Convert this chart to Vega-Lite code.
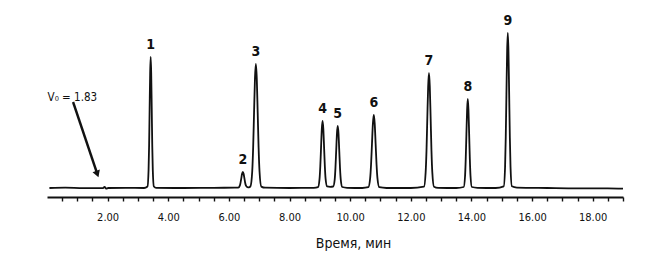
{
  "$schema": "https://vega.github.io/schema/vega-lite/v6.json",
  "width": 576,
  "height": 187,
  "autosize": {"type": "none"},
  "padding": {"left": 47, "top": 10, "right": 27, "bottom": 72},
  "background": "white",
  "config": {"view": {"stroke": null}},
  "datasets": {
    "trace": [
      {"t":0.08,"s":0},{"t":0.6,"s":0.3},{"t":1.2,"s":-0.2},{"t":1.85,"s":0},{"t":1.9,"s":1.2},{"t":1.95,"s":-0.6},{"t":2.02,"s":0},{"t":2.6,"s":0.2},{"t":3.2,"s":0},
      {"t":3.315,"s":1.5},{"t":3.35,"s":17.7},{"t":3.368,"s":42.5},{"t":3.385,"s":79.5},{"t":3.403,"s":115.6},{"t":3.42,"s":131},{"t":3.437,"s":115.6},{"t":3.455,"s":79.5},{"t":3.472,"s":42.5},{"t":3.49,"s":17.7},{"t":3.525,"s":1.5},{"t":3.6,"s":0.2},
      {"t":4.5,"s":0},{"t":5.5,"s":0.2},{"t":6.2,"s":0.3},
      {"t":6.31,"s":0.4},{"t":6.36,"s":2.4},{"t":6.385,"s":5.4},{"t":6.41,"s":9.9},{"t":6.435,"s":14.3},{"t":6.46,"s":16.2},{"t":6.485,"s":14.3},{"t":6.51,"s":10},{"t":6.535,"s":5.5},{"t":6.56,"s":2.6},{"t":6.61,"s":0.8},{"t":6.66,"s":0.6},
      {"t":6.71,"s":1.6},{"t":6.77,"s":16.8},{"t":6.8,"s":40.3},{"t":6.83,"s":75.2},{"t":6.86,"s":109.4},{"t":6.89,"s":124},{"t":6.92,"s":109.4},{"t":6.95,"s":75.2},{"t":6.98,"s":40.3},{"t":7.01,"s":16.8},{"t":7.07,"s":1.4},{"t":7.2,"s":0.3},
      {"t":8.0,"s":0},{"t":8.8,"s":0.2},
      {"t":8.94,"s":0.9},{"t":8.99,"s":9.1},{"t":9.015,"s":21.8},{"t":9.04,"s":40.6},{"t":9.065,"s":59.1},{"t":9.09,"s":67},{"t":9.115,"s":59.1},{"t":9.14,"s":40.6},{"t":9.165,"s":21.8},{"t":9.19,"s":9.1},{"t":9.24,"s":1.6},{"t":9.34,"s":1.2},
      {"t":9.44,"s":1.5},{"t":9.49,"s":8.4},{"t":9.515,"s":20.1},{"t":9.54,"s":37.6},{"t":9.565,"s":54.7},{"t":9.59,"s":62},{"t":9.615,"s":54.7},{"t":9.64,"s":37.6},{"t":9.665,"s":20.1},{"t":9.69,"s":8.4},{"t":9.74,"s":1.0},{"t":9.9,"s":0.2},
      {"t":10.4,"s":0},
      {"t":10.6,"s":0.8},{"t":10.66,"s":9.9},{"t":10.69,"s":23.7},{"t":10.72,"s":44.3},{"t":10.75,"s":64.4},{"t":10.78,"s":73},{"t":10.81,"s":64.4},{"t":10.84,"s":44.3},{"t":10.87,"s":23.7},{"t":10.9,"s":9.9},{"t":10.96,"s":0.8},{"t":11.2,"s":0},
      {"t":12.0,"s":0},
      {"t":12.435,"s":1.3},{"t":12.49,"s":15.6},{"t":12.518,"s":37.3},{"t":12.545,"s":69.7},{"t":12.573,"s":101.5},{"t":12.6,"s":115},{"t":12.627,"s":101.5},{"t":12.655,"s":69.7},{"t":12.682,"s":37.3},{"t":12.71,"s":15.6},{"t":12.765,"s":1.3},{"t":12.9,"s":0.2},
      {"t":13.5,"s":0},
      {"t":13.745,"s":1.0},{"t":13.79,"s":12},{"t":13.812,"s":28.9},{"t":13.835,"s":54},{"t":13.858,"s":78.5},{"t":13.88,"s":89},{"t":13.902,"s":78.5},{"t":13.925,"s":54},{"t":13.948,"s":28.9},{"t":13.97,"s":12},{"t":14.015,"s":1.0},{"t":14.2,"s":0.2},
      {"t":14.8,"s":0},
      {"t":15.065,"s":1.7},{"t":15.11,"s":21},{"t":15.132,"s":50.3},{"t":15.155,"s":94},{"t":15.178,"s":136.8},{"t":15.2,"s":155},{"t":15.222,"s":136.8},{"t":15.245,"s":94},{"t":15.268,"s":50.3},{"t":15.29,"s":21},{"t":15.335,"s":1.7},{"t":15.5,"s":0.4},
      {"t":16.5,"s":0},{"t":17.5,"s":-0.3},{"t":18.5,"s":-0.3},{"t":19.0,"s":-0.6}
    ],
    "peaks": [
      {"t":3.42,"s":131,"label":"1"},
      {"t":6.46,"s":16,"label":"2"},
      {"t":6.89,"s":124,"label":"3"},
      {"t":9.09,"s":67,"label":"4"},
      {"t":9.59,"s":62,"label":"5"},
      {"t":10.78,"s":73,"label":"6"},
      {"t":12.6,"s":115,"label":"7"},
      {"t":13.88,"s":89,"label":"8"},
      {"t":15.2,"s":155,"label":"9"}
    ],
    "arrow": [
      {"t":0.86,"s":86,"part":"tail"},
      {"t":1.66,"s":14,"part":"head"}
    ],
    "note": [
      {"t":0.02,"s":90,"text":"V₀ = 1.83"}
    ]
  },
  "layer": [
    {
      "data": {"name": "trace"},
      "mark": {"type": "line", "interpolate": "monotone", "color": "#111", "strokeWidth": 1.8},
      "encoding": {
        "x": {
          "field": "t", "type": "quantitative",
          "scale": {"domain": [0, 19], "nice": false, "zero": false},
          "axis": {
            "title": "Время, мин",
            "values": [0.5,1,1.5,2,2.5,3,3.5,4,4.5,5,5.5,6,6.5,7,7.5,8,8.5,9,9.5,10,10.5,11,11.5,12,12.5,13,13.5,14,14.5,15,15.5,16,16.5,17,17.5,18,18.5,19],
            "tickCount": 60,
            "labelExpr": "datum.value % 2 == 0 ? format(datum.value, '.2f') : ''",
            "labelOverlap": false,
            "labelFlush": false,
            "labelFont": "DejaVu Sans Condensed, Liberation Sans Narrow, DejaVu Sans, sans-serif",
            "labelFontSize": 11,
            "labelColor": "#111",
            "labelPadding": 10,
            "domainColor": "#111",
            "domainWidth": 2,
            "tickColor": "#111",
            "tickSize": 4,
            "tickWidth": 1.4,
            "grid": false,
            "titleFont": "DejaVu Sans Condensed, Liberation Sans Narrow, DejaVu Sans, sans-serif",
            "titleFontSize": 14,
            "titleFontWeight": "normal",
            "titleColor": "#111",
            "titlePadding": 14,
            "titleX": 306
          }
        },
        "y": {
          "field": "s", "type": "quantitative",
          "scale": {"domain": [-9, 178], "nice": false, "zero": false},
          "axis": null
        }
      }
    },
    {
      "data": {"name": "peaks"},
      "mark": {"type": "text", "font": "DejaVu Sans Condensed, Liberation Sans Narrow, DejaVu Sans, sans-serif", "fontWeight": "bold", "fontSize": 14, "color": "#111", "baseline": "alphabetic", "align": "center", "dy": -8},
      "encoding": {
        "x": {"field": "t", "type": "quantitative"},
        "y": {"field": "s", "type": "quantitative"},
        "text": {"field": "label"}
      }
    },
    {
      "data": {"name": "arrow"},
      "mark": {"type": "line", "color": "#111", "strokeWidth": 2.4},
      "encoding": {
        "x": {"field": "t", "type": "quantitative"},
        "y": {"field": "s", "type": "quantitative"}
      }
    },
    {
      "data": {"name": "arrow"},
      "transform": [{"filter": "datum.part == 'head'"}],
      "mark": {"type": "point", "shape": "triangle-down", "filled": true, "color": "#111", "size": 60, "angle": 340, "opacity": 1},
      "encoding": {
        "x": {"field": "t", "type": "quantitative"},
        "y": {"field": "s", "type": "quantitative"}
      }
    },
    {
      "data": {"name": "note"},
      "mark": {"type": "text", "font": "DejaVu Sans Condensed, Liberation Sans Narrow, DejaVu Sans, sans-serif", "fontSize": 11.5, "color": "#111", "align": "left", "baseline": "middle"},
      "encoding": {
        "x": {"field": "t", "type": "quantitative"},
        "y": {"field": "s", "type": "quantitative"},
        "text": {"field": "text"}
      }
    }
  ]
}
